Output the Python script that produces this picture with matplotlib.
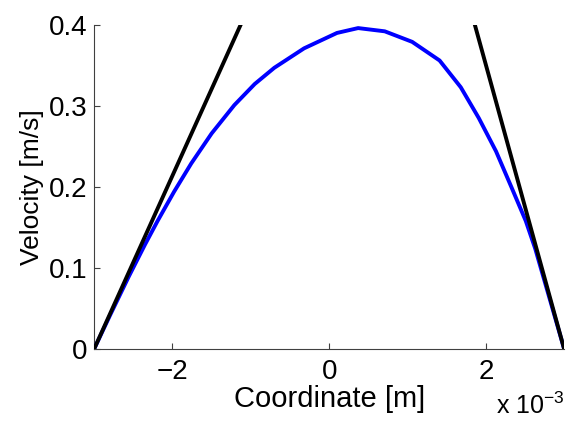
import numpy as np
import matplotlib
matplotlib.use('Agg')
import matplotlib.pyplot as plt
from matplotlib.ticker import FuncFormatter

plt.rcParams['font.family'] = ['Liberation Sans', 'DejaVu Sans']

# velocity profile (coordinate in m, velocity in m/s)
coord = np.array([-3.0, -2.8, -2.56, -2.35, -2.19, -1.98, -1.76, -1.5, -1.21,
                  -0.95, -0.70, -0.32, 0.10, 0.37, 0.71, 1.06, 1.41, 1.68,
                  1.91, 2.13, 2.33, 2.51, 2.63, 2.8, 3.0]) * 1e-3
velocity = [0.0, 0.041, 0.089, 0.129, 0.158, 0.194, 0.229, 0.266, 0.301,
            0.327, 0.347, 0.371, 0.390, 0.396, 0.392, 0.379, 0.356, 0.323,
            0.285, 0.244, 0.199, 0.158, 0.124, 0.067, 0.0]

# wall tangent lines
left_x = np.array([-3.0, -1.13]) * 1e-3
left_v = [0.0, 0.4]
right_x = np.array([1.86, 3.0]) * 1e-3
right_v = [0.4, 0.0]

fig = plt.figure(figsize=(5.67, 4.21), dpi=100)
ax = fig.add_axes([0.166, 0.171, 0.829, 0.770])

ax.plot(coord, velocity, color='#0000ff', lw=2.8, zorder=3)
ax.plot(left_x, left_v, color='black', lw=2.8, zorder=4)
ax.plot(right_x, right_v, color='black', lw=2.8, zorder=4)

ax.set_xlim(-3e-3, 3e-3)
ax.set_ylim(0, 0.4)
ax.set_xticks([-2e-3, 0, 2e-3])
ax.set_yticks([0, 0.1, 0.2, 0.3, 0.4])
ax.xaxis.set_major_formatter(FuncFormatter(lambda v, p: '%g' % round(v * 1e3, 6) if v >= 0 else '\u2212%g' % round(-v * 1e3, 6)))
ax.yaxis.set_major_formatter(FuncFormatter(lambda v, p: '%g' % round(v, 3)))

for s in ['top', 'right']:
    ax.spines[s].set_visible(False)
for s in ['left', 'bottom']:
    ax.spines[s].set_color('#404040')
    ax.spines[s].set_linewidth(0.8)

ax.tick_params(direction='in', length=4, width=0.8, color='#404040',
               labelsize=20, pad=5)
ax.tick_params(axis='x', pad=7)
ax.set_xlabel('Coordinate [m]', fontsize=21, labelpad=0)
ax.set_ylabel('Velocity [m/s]', fontsize=19, labelpad=3)

fig.text(0.996, 0.004, r'x 10$^{\mathregular{-3}}$', ha='right', va='bottom', fontsize=18)

fig.savefig('out.png', dpi=100)
